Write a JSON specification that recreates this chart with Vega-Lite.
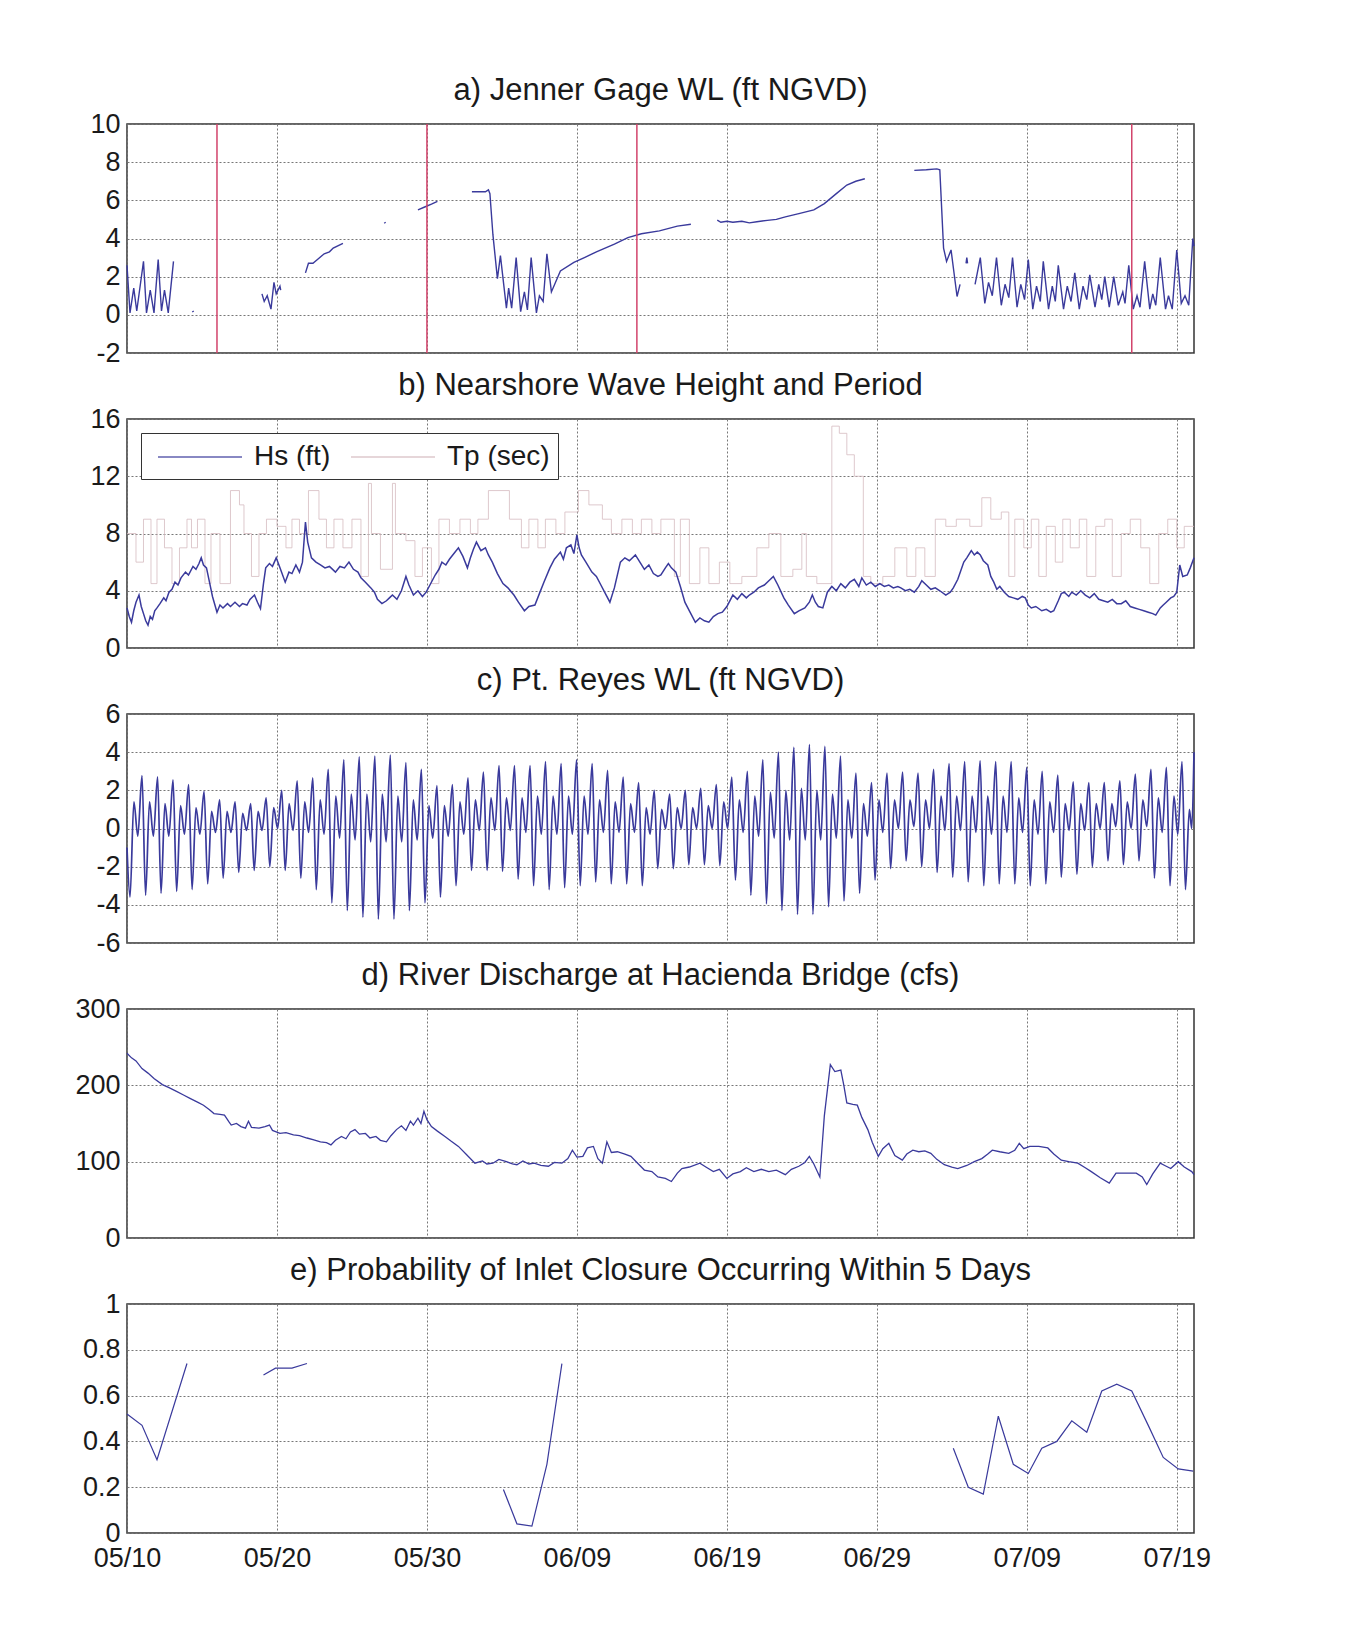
{
"$schema":"https://vega.github.io/schema/vega-lite/v6.json",
"autosize":{"type":"pad"},
"padding":{"left":74,"top":74,"right":20,"bottom":20},
"background":"white",
"spacing":66,
"bounds":"flush",
"resolve":{"scale":{"color":"independent"},"legend":{"color":"independent"}},
"config":{
"view":{"stroke":"#333","strokeWidth":1.5},
"axis":{"grid":true,"gridColor":"#777","gridDash":[2,2],"gridWidth":1,"ticks":false,"domain":false,"labelFont":"Liberation Sans","labelFontSize":27,"labelColor":"#1a1a1a","title":null,"labelOverlap":false,"labelBound":false,"labelFlush":false},
"title":{"font":"Liberation Sans","fontSize":31,"fontWeight":"normal","color":"#1a1a1a","anchor":"middle","offset":3},
"line":{"color":"#3a3a9c","strokeWidth":1.3}
},
"vconcat":[
{"title":"a) Jenner Gage WL (ft NGVD)","width":1067,"height":229,
"encoding":{"x":{"field":"d","type":"quantitative","scale":{"domain":[0,71.15],"nice":false,"zero":false},"axis":{"labels":false,"values":[0,10,20,30,40,50,60,70]}}},
"layer":[
{"data":{"name":"a"},"mark":{"type":"line","strokeWidth":1.4},"encoding":{"y":{"field":"v","type":"quantitative","scale":{"domain":[-2,10],"nice":false},"axis":{"values":[-2,0,2,4,6,8,10],"labelExpr":"''+datum.value","labelPadding":7}},"detail":{"field":"g"}}},
{"data":{"name":"red"},"mark":{"type":"rule","color":"#d2436b","strokeWidth":1.5},"encoding":{}}
]},
{"title":"b) Nearshore Wave Height and Period","width":1067,"height":229,
"encoding":{"x":{"field":"d","type":"quantitative","scale":{"domain":[0,71.15],"nice":false,"zero":false},"axis":{"labels":false,"values":[0,10,20,30,40,50,60,70]}},
"y":{"field":"v","type":"quantitative","scale":{"domain":[0,16],"nice":false},"axis":{"values":[0,4,8,12,16],"labelExpr":"''+datum.value","labelPadding":7}}},
"layer":[
{"data":{"name":"tp"},"mark":{"type":"line","interpolate":"step-after","strokeWidth":1,"opacity":0.8},"encoding":{"color":{"datum":"Tp (sec)","type":"nominal","scale":{"domain":["Hs (ft)","Tp (sec)"],"range":["#3a3a9c","#d6bcc0"]},
"legend":{"orient":"none","legendX":14,"legendY":14,"direction":"horizontal","title":null,"symbolType":"M-2.8,0H2.8","symbolSize":900,"symbolStrokeWidth":1.5,"symbolOffset":35,"labelFontSize":28,"labelFont":"Liberation Sans","labelColor":"#1a1a1a","labelOffset":38,"columnPadding":11,"padding":8,"strokeColor":"#333","fillColor":"white","labelLimit":300}}}},
{"data":{"name":"b"},"mark":{"type":"line","strokeWidth":1.5},"encoding":{"color":{"datum":"Hs (ft)","type":"nominal"}}}
]},
{"title":"c) Pt. Reyes WL (ft NGVD)","width":1067,"height":229,
"data":{"name":"c"},"mark":{"type":"line","strokeWidth":1.7,"interpolate":"monotone"},
"encoding":{"x":{"field":"d","type":"quantitative","scale":{"domain":[0,71.15],"nice":false,"zero":false},"axis":{"labels":false,"values":[0,10,20,30,40,50,60,70]}},
"y":{"field":"v","type":"quantitative","scale":{"domain":[-6,6],"nice":false},"axis":{"values":[-6,-4,-2,0,2,4,6],"labelExpr":"''+datum.value","labelPadding":7}}}},
{"title":"d) River Discharge at Hacienda Bridge (cfs)","width":1067,"height":229,
"data":{"name":"d"},"mark":{"type":"line","strokeWidth":1.3},
"encoding":{"x":{"field":"d","type":"quantitative","scale":{"domain":[0,71.15],"nice":false,"zero":false},"axis":{"labels":false,"values":[0,10,20,30,40,50,60,70]}},
"y":{"field":"v","type":"quantitative","scale":{"domain":[0,300],"nice":false},"axis":{"values":[0,100,200,300],"labelExpr":"''+datum.value","labelPadding":7}}}},
{"title":"e) Probability of Inlet Closure Occurring Within 5 Days","width":1067,"height":229,
"data":{"name":"e"},"mark":{"type":"line","strokeWidth":1.2},
"encoding":{"x":{"field":"d","type":"quantitative","scale":{"domain":[0,71.15],"nice":false,"zero":false},"axis":{"labels":true,"values":[0,10,20,30,40,50,60,70],"labelExpr":"timeFormat(datetime(2013,4,10+datum.value),'%m/%d')","labelPadding":12}},
"y":{"field":"v","type":"quantitative","scale":{"domain":[0,1],"nice":false},"axis":{"values":[0,0.2,0.4,0.6,0.8,1],"labelExpr":"''+datum.value","labelPadding":7}},
"detail":{"field":"g"}}}
],
"datasets":{
"red":[{"d":6},{"d":20},{"d":34},{"d":67}],
"a":[
{"d":0,"v":2.6,"g":1},{"d":0.2,"v":0.1,"g":1},{"d":0.45,"v":1.4,"g":1},{"d":0.65,"v":0.2,"g":1},{"d":1.1,"v":2.8,"g":1},{"d":1.3,"v":0.1,"g":1},{"d":1.55,"v":1.3,"g":1},{"d":1.8,"v":0.1,"g":1},{"d":2.08,"v":2.9,"g":1},{"d":2.3,"v":0.2,"g":1},{"d":2.5,"v":1.3,"g":1},{"d":2.75,"v":0.1,"g":1},{"d":3.1,"v":2.8,"g":1},
{"d":4.35,"v":0.15,"g":2},{"d":4.45,"v":0.2,"g":2},
{"d":9.0,"v":1.1,"g":3},{"d":9.15,"v":0.7,"g":3},{"d":9.35,"v":1.0,"g":3},{"d":9.6,"v":0.3,"g":3},{"d":9.8,"v":1.7,"g":3},{"d":9.95,"v":1.1,"g":3},{"d":10.2,"v":1.5,"g":3},{"d":10.25,"v":1.3,"g":3},
{"d":11.9,"v":2.2,"g":4},{"d":12.1,"v":2.7,"g":4},{"d":12.4,"v":2.7,"g":4},{"d":12.7,"v":2.9,"g":4},{"d":13.15,"v":3.2,"g":4},{"d":13.5,"v":3.3,"g":4},{"d":13.75,"v":3.5,"g":4},{"d":14.4,"v":3.75,"g":4},
{"d":17.15,"v":4.8,"g":5},{"d":17.25,"v":4.85,"g":5},
{"d":19.4,"v":5.5,"g":6},{"d":19.85,"v":5.65,"g":6},{"d":20.3,"v":5.8,"g":6},{"d":20.7,"v":5.95,"g":6},
{"d":23.0,"v":6.45,"g":7},{"d":23.9,"v":6.45,"g":7},{"d":24.1,"v":6.55,"g":7},{"d":24.2,"v":6.35,"g":7},{"d":24.4,"v":4.2,"g":7},{"d":24.7,"v":1.9,"g":7},{"d":24.9,"v":3.1,"g":7},{"d":25.3,"v":0.35,"g":7},{"d":25.45,"v":1.4,"g":7},{"d":25.65,"v":0.35,"g":7},{"d":25.95,"v":3.0,"g":7},{"d":26.25,"v":0.17,"g":7},{"d":26.5,"v":1.2,"g":7},{"d":26.7,"v":0.26,"g":7},{"d":26.95,"v":3.0,"g":7},{"d":27.3,"v":0.1,"g":7},{"d":27.5,"v":1.0,"g":7},{"d":27.75,"v":0.7,"g":7},{"d":28.0,"v":3.2,"g":7},{"d":28.3,"v":1.2,"g":7},{"d":28.9,"v":2.3,"g":7},{"d":29.8,"v":2.75,"g":7},{"d":30.5,"v":3.0,"g":7},{"d":31.3,"v":3.3,"g":7},{"d":32.5,"v":3.7,"g":7},{"d":33.4,"v":4.05,"g":7},{"d":34.3,"v":4.25,"g":7},{"d":35.5,"v":4.4,"g":7},{"d":36.7,"v":4.65,"g":7},{"d":37.6,"v":4.75,"g":7},
{"d":39.36,"v":4.96,"g":8},{"d":39.6,"v":4.85,"g":8},{"d":40.0,"v":4.9,"g":8},{"d":40.4,"v":4.85,"g":8},{"d":41.0,"v":4.9,"g":8},{"d":41.5,"v":4.82,"g":8},{"d":42.0,"v":4.88,"g":8},{"d":42.7,"v":4.95,"g":8},{"d":43.3,"v":5.0,"g":8},{"d":43.9,"v":5.13,"g":8},{"d":44.8,"v":5.3,"g":8},{"d":45.8,"v":5.5,"g":8},{"d":46.5,"v":5.83,"g":8},{"d":47.3,"v":6.35,"g":8},{"d":48.0,"v":6.8,"g":8},{"d":48.6,"v":7.0,"g":8},{"d":49.2,"v":7.13,"g":8},
{"d":52.5,"v":7.57,"g":9},{"d":53.3,"v":7.6,"g":9},{"d":54.0,"v":7.65,"g":9},{"d":54.2,"v":7.6,"g":9},{"d":54.45,"v":3.5,"g":9},{"d":54.65,"v":2.8,"g":9},{"d":54.95,"v":3.4,"g":9},{"d":55.35,"v":0.96,"g":9},{"d":55.55,"v":1.6,"g":9},
{"d":55.95,"v":2.7,"g":10},{"d":56.0,"v":3.0,"g":10},{"d":56.05,"v":2.7,"g":10},
{"d":56.55,"v":1.6,"g":11},{"d":56.9,"v":3.0,"g":11},{"d":57.2,"v":0.6,"g":11},{"d":57.45,"v":1.7,"g":11},{"d":57.7,"v":1.0,"g":11},{"d":57.98,"v":3.0,"g":11},{"d":58.3,"v":0.5,"g":11},{"d":58.55,"v":1.6,"g":11},{"d":58.8,"v":0.9,"g":11},{"d":59.05,"v":3.0,"g":11},{"d":59.35,"v":0.4,"g":11},{"d":59.6,"v":1.6,"g":11},{"d":59.85,"v":0.8,"g":11},{"d":60.1,"v":2.9,"g":11},{"d":60.4,"v":0.3,"g":11},{"d":60.65,"v":1.5,"g":11},{"d":60.9,"v":0.7,"g":11},{"d":61.1,"v":2.8,"g":11},{"d":61.45,"v":0.3,"g":11},{"d":61.7,"v":1.5,"g":11},{"d":61.9,"v":0.7,"g":11},{"d":62.1,"v":2.6,"g":11},{"d":62.45,"v":0.3,"g":11},{"d":62.7,"v":1.5,"g":11},{"d":62.95,"v":0.7,"g":11},{"d":63.2,"v":2.2,"g":11},{"d":63.5,"v":0.3,"g":11},{"d":63.75,"v":1.5,"g":11},{"d":64.0,"v":0.8,"g":11},{"d":64.2,"v":2.1,"g":11},{"d":64.55,"v":0.4,"g":11},{"d":64.8,"v":1.6,"g":11},{"d":65.0,"v":0.8,"g":11},{"d":65.2,"v":2.0,"g":11},{"d":65.5,"v":0.4,"g":11},{"d":65.8,"v":2.0,"g":11},{"d":66.1,"v":0.5,"g":11},{"d":66.4,"v":1.2,"g":11},{"d":66.55,"v":0.6,"g":11},{"d":66.8,"v":2.6,"g":11},{"d":67.1,"v":0.3,"g":11},{"d":67.35,"v":1.0,"g":11},{"d":67.55,"v":0.4,"g":11},{"d":67.86,"v":2.8,"g":11},{"d":68.2,"v":0.3,"g":11},{"d":68.4,"v":1.1,"g":11},{"d":68.6,"v":0.5,"g":11},{"d":68.9,"v":3.0,"g":11},{"d":69.25,"v":0.3,"g":11},{"d":69.45,"v":1.0,"g":11},{"d":69.7,"v":0.3,"g":11},{"d":70.0,"v":3.4,"g":11},{"d":70.3,"v":0.6,"g":11},{"d":70.55,"v":1.0,"g":11},{"d":70.8,"v":0.5,"g":11},{"d":71.07,"v":4.0,"g":11},{"d":71.15,"v":3.6,"g":11}
],
"tp":[
{"d":0,"v":8},{"d":0.6,"v":6},{"d":1.1,"v":9},{"d":1.6,"v":4.5},{"d":2.0,"v":9},{"d":2.5,"v":7},{"d":3.0,"v":4.5},{"d":3.5,"v":7},{"d":4.0,"v":9},{"d":4.3,"v":7},{"d":4.7,"v":9},{"d":5.2,"v":4.5},{"d":5.6,"v":8},{"d":6.2,"v":4.5},{"d":6.9,"v":11},{"d":7.5,"v":10},{"d":7.8,"v":8},{"d":8.3,"v":5},{"d":8.8,"v":8},{"d":9.3,"v":9},{"d":10.0,"v":8.5},{"d":10.6,"v":7},{"d":11.0,"v":9},{"d":11.5,"v":8},{"d":12.1,"v":11},{"d":12.8,"v":9},{"d":13.3,"v":7},{"d":13.8,"v":9},{"d":14.4,"v":7},{"d":15.0,"v":9},{"d":15.6,"v":5},{"d":16.1,"v":11.5},{"d":16.3,"v":8},{"d":16.9,"v":5.5},{"d":17.7,"v":11.5},{"d":17.9,"v":8},{"d":18.6,"v":7.5},{"d":19.2,"v":5},{"d":19.7,"v":7},{"d":20.3,"v":4.5},{"d":20.8,"v":9},{"d":21.5,"v":8},{"d":22.2,"v":9},{"d":22.9,"v":8},{"d":23.4,"v":9},{"d":24.1,"v":11},{"d":25.5,"v":9},{"d":26.3,"v":7},{"d":26.8,"v":9},{"d":27.4,"v":7},{"d":27.9,"v":9},{"d":28.6,"v":8},{"d":29.2,"v":9.5},{"d":30.1,"v":11},{"d":30.8,"v":10},{"d":31.7,"v":9},{"d":32.3,"v":8},{"d":33.0,"v":9},{"d":33.7,"v":8},{"d":34.3,"v":9},{"d":35.0,"v":8},{"d":35.6,"v":9},{"d":36.5,"v":5},{"d":36.9,"v":9},{"d":37.5,"v":4.5},{"d":38.2,"v":7},{"d":38.8,"v":4.5},{"d":39.5,"v":6},{"d":40.2,"v":4.5},{"d":41.0,"v":5},{"d":42.0,"v":7},{"d":42.8,"v":8},{"d":43.6,"v":5},{"d":44.4,"v":5.5},{"d":45.0,"v":8},{"d":45.3,"v":5},{"d":46.0,"v":4.5},{"d":47.0,"v":15.5},{"d":47.5,"v":15},{"d":48.0,"v":13.5},{"d":48.5,"v":12},{"d":49.1,"v":5},{"d":49.6,"v":4.5},{"d":50.4,"v":5},{"d":51.2,"v":7},{"d":52.0,"v":5},{"d":52.6,"v":7},{"d":53.2,"v":5},{"d":53.9,"v":9},{"d":54.6,"v":8.5},{"d":55.3,"v":9},{"d":56.2,"v":8.5},{"d":57.0,"v":10.5},{"d":57.6,"v":9},{"d":58.3,"v":9.5},{"d":58.8,"v":5},{"d":59.2,"v":9},{"d":59.8,"v":7},{"d":60.3,"v":9},{"d":60.8,"v":5},{"d":61.3,"v":8.5},{"d":61.9,"v":6},{"d":62.4,"v":9},{"d":62.9,"v":7},{"d":63.5,"v":9},{"d":64.0,"v":5},{"d":64.6,"v":8.5},{"d":65.2,"v":9},{"d":65.7,"v":5},{"d":66.3,"v":8},{"d":66.9,"v":9},{"d":67.6,"v":7},{"d":68.2,"v":4.5},{"d":68.8,"v":8},{"d":69.4,"v":9},{"d":70.0,"v":7},{"d":70.5,"v":8.5},{"d":71.15,"v":8.5}
],
"b":[
{"d":0,"v":2.8},{"d":0.15,"v":2.2},{"d":0.3,"v":1.8},{"d":0.45,"v":2.6},{"d":0.6,"v":3.2},{"d":0.8,"v":3.7},{"d":0.95,"v":2.9},{"d":1.1,"v":2.4},{"d":1.25,"v":1.9},{"d":1.4,"v":1.6},{"d":1.55,"v":2.2},{"d":1.7,"v":2.0},{"d":1.85,"v":2.6},{"d":2.0,"v":2.8},{"d":2.2,"v":3.1},{"d":2.45,"v":3.5},{"d":2.6,"v":3.3},{"d":2.8,"v":3.9},{"d":3.0,"v":4.1},{"d":3.2,"v":4.6},{"d":3.4,"v":4.4},{"d":3.6,"v":4.9},{"d":3.9,"v":5.3},{"d":4.1,"v":5.1},{"d":4.4,"v":5.7},{"d":4.6,"v":5.5},{"d":4.8,"v":5.9},{"d":4.95,"v":6.3},{"d":5.1,"v":5.8},{"d":5.3,"v":5.6},{"d":5.5,"v":4.6},{"d":5.7,"v":3.6},{"d":6.0,"v":2.5},{"d":6.2,"v":3.0},{"d":6.4,"v":2.8},{"d":6.7,"v":3.1},{"d":6.9,"v":2.9},{"d":7.2,"v":3.2},{"d":7.5,"v":2.9},{"d":7.7,"v":3.1},{"d":8.0,"v":3.0},{"d":8.2,"v":3.4},{"d":8.5,"v":3.7},{"d":8.7,"v":3.2},{"d":8.9,"v":2.75},{"d":9.1,"v":4.5},{"d":9.25,"v":5.6},{"d":9.5,"v":5.9},{"d":9.7,"v":5.7},{"d":9.95,"v":6.3},{"d":10.2,"v":5.6},{"d":10.55,"v":4.6},{"d":10.8,"v":5.3},{"d":11.0,"v":5.2},{"d":11.26,"v":5.8},{"d":11.5,"v":5.3},{"d":11.7,"v":6.0},{"d":11.9,"v":8.8},{"d":12.05,"v":7.4},{"d":12.3,"v":6.3},{"d":12.6,"v":6.0},{"d":12.9,"v":5.8},{"d":13.2,"v":5.6},{"d":13.5,"v":5.7},{"d":13.9,"v":5.3},{"d":14.2,"v":5.7},{"d":14.5,"v":5.6},{"d":14.8,"v":6.0},{"d":15.1,"v":5.5},{"d":15.4,"v":5.3},{"d":15.6,"v":4.9},{"d":15.9,"v":4.6},{"d":16.26,"v":4.2},{"d":16.5,"v":3.9},{"d":16.7,"v":3.4},{"d":17.0,"v":3.1},{"d":17.3,"v":3.3},{"d":17.5,"v":3.5},{"d":17.7,"v":3.7},{"d":18.0,"v":3.4},{"d":18.3,"v":4.0},{"d":18.6,"v":5.0},{"d":18.8,"v":4.4},{"d":19.1,"v":3.7},{"d":19.4,"v":4.0},{"d":19.7,"v":3.6},{"d":19.95,"v":3.9},{"d":20.2,"v":4.4},{"d":20.55,"v":5.1},{"d":20.8,"v":5.5},{"d":21.0,"v":6.0},{"d":21.26,"v":5.8},{"d":21.5,"v":6.2},{"d":21.8,"v":6.6},{"d":22.1,"v":7.0},{"d":22.4,"v":6.4},{"d":22.7,"v":5.6},{"d":22.9,"v":6.3},{"d":23.1,"v":6.9},{"d":23.3,"v":7.4},{"d":23.6,"v":6.8},{"d":23.9,"v":7.0},{"d":24.1,"v":6.5},{"d":24.36,"v":6.0},{"d":24.7,"v":5.2},{"d":25.07,"v":4.5},{"d":25.4,"v":4.2},{"d":25.8,"v":3.7},{"d":26.1,"v":3.2},{"d":26.5,"v":2.6},{"d":26.8,"v":2.9},{"d":27.2,"v":3.0},{"d":27.5,"v":3.8},{"d":27.8,"v":4.6},{"d":28.2,"v":5.6},{"d":28.5,"v":6.2},{"d":28.9,"v":6.7},{"d":29.1,"v":6.2},{"d":29.3,"v":7.0},{"d":29.6,"v":7.2},{"d":29.8,"v":6.6},{"d":30.0,"v":7.9},{"d":30.15,"v":7.0},{"d":30.3,"v":6.5},{"d":30.6,"v":6.0},{"d":31.0,"v":5.3},{"d":31.3,"v":5.0},{"d":31.6,"v":4.4},{"d":31.9,"v":3.8},{"d":32.2,"v":3.2},{"d":32.5,"v":4.2},{"d":32.9,"v":6.0},{"d":33.2,"v":6.3},{"d":33.5,"v":6.1},{"d":33.9,"v":6.5},{"d":34.2,"v":6.0},{"d":34.5,"v":5.5},{"d":34.8,"v":5.8},{"d":35.1,"v":5.2},{"d":35.4,"v":5.0},{"d":35.6,"v":5.1},{"d":35.9,"v":5.6},{"d":36.1,"v":5.9},{"d":36.3,"v":5.6},{"d":36.6,"v":5.3},{"d":36.9,"v":4.3},{"d":37.2,"v":3.2},{"d":37.5,"v":2.6},{"d":37.9,"v":1.8},{"d":38.2,"v":2.1},{"d":38.5,"v":1.9},{"d":38.8,"v":1.8},{"d":39.1,"v":2.2},{"d":39.4,"v":2.4},{"d":39.7,"v":2.5},{"d":40.0,"v":2.9},{"d":40.4,"v":3.7},{"d":40.7,"v":3.4},{"d":41.0,"v":3.8},{"d":41.3,"v":3.5},{"d":41.5,"v":3.7},{"d":41.8,"v":3.9},{"d":42.1,"v":4.2},{"d":42.5,"v":4.4},{"d":42.8,"v":4.7},{"d":43.1,"v":5.0},{"d":43.4,"v":4.4},{"d":43.8,"v":3.5},{"d":44.1,"v":3.0},{"d":44.5,"v":2.4},{"d":44.8,"v":2.6},{"d":45.2,"v":2.8},{"d":45.5,"v":3.2},{"d":45.7,"v":3.7},{"d":45.9,"v":3.2},{"d":46.1,"v":2.9},{"d":46.4,"v":2.8},{"d":46.7,"v":3.9},{"d":47.0,"v":4.3},{"d":47.3,"v":4.0},{"d":47.6,"v":4.5},{"d":47.9,"v":4.2},{"d":48.2,"v":4.6},{"d":48.5,"v":4.8},{"d":48.8,"v":4.3},{"d":49.0,"v":4.9},{"d":49.3,"v":4.4},{"d":49.6,"v":4.6},{"d":49.9,"v":4.3},{"d":50.2,"v":4.5},{"d":50.5,"v":4.3},{"d":50.8,"v":4.4},{"d":51.1,"v":4.2},{"d":51.4,"v":4.3},{"d":51.6,"v":4.2},{"d":51.9,"v":4.0},{"d":52.2,"v":4.1},{"d":52.5,"v":3.9},{"d":52.8,"v":4.3},{"d":53.0,"v":4.7},{"d":53.3,"v":4.4},{"d":53.6,"v":4.1},{"d":53.9,"v":4.2},{"d":54.2,"v":4.0},{"d":54.6,"v":3.7},{"d":54.9,"v":3.9},{"d":55.1,"v":4.2},{"d":55.4,"v":4.8},{"d":55.8,"v":6.0},{"d":56.0,"v":6.3},{"d":56.3,"v":6.8},{"d":56.5,"v":6.5},{"d":56.7,"v":6.7},{"d":56.9,"v":6.5},{"d":57.1,"v":6.1},{"d":57.4,"v":5.8},{"d":57.6,"v":5.0},{"d":57.8,"v":4.6},{"d":58.0,"v":4.1},{"d":58.2,"v":4.3},{"d":58.5,"v":3.9},{"d":58.8,"v":3.6},{"d":59.1,"v":3.5},{"d":59.4,"v":3.4},{"d":59.7,"v":3.6},{"d":59.9,"v":3.5},{"d":60.1,"v":3.0},{"d":60.3,"v":2.8},{"d":60.6,"v":2.9},{"d":61.0,"v":2.6},{"d":61.3,"v":2.7},{"d":61.6,"v":2.5},{"d":61.8,"v":2.6},{"d":62.1,"v":3.3},{"d":62.3,"v":3.8},{"d":62.5,"v":3.9},{"d":62.8,"v":3.6},{"d":63.0,"v":3.9},{"d":63.3,"v":3.7},{"d":63.6,"v":4.0},{"d":63.9,"v":3.7},{"d":64.2,"v":3.5},{"d":64.5,"v":3.8},{"d":64.8,"v":3.4},{"d":65.1,"v":3.3},{"d":65.4,"v":3.2},{"d":65.7,"v":3.4},{"d":66.0,"v":3.1},{"d":66.3,"v":3.1},{"d":66.6,"v":3.3},{"d":66.9,"v":2.9},{"d":67.2,"v":2.8},{"d":67.5,"v":2.7},{"d":67.8,"v":2.6},{"d":68.1,"v":2.5},{"d":68.4,"v":2.4},{"d":68.6,"v":2.3},{"d":68.9,"v":2.8},{"d":69.1,"v":3.0},{"d":69.3,"v":3.2},{"d":69.6,"v":3.5},{"d":69.8,"v":3.6},{"d":70.0,"v":3.9},{"d":70.2,"v":5.8},{"d":70.4,"v":5.0},{"d":70.7,"v":5.1},{"d":70.9,"v":5.6},{"d":71.15,"v":6.3}
],
"c":[
{"d":0,"v":-1},
{"d":0.2,"v":-3.6},{"d":0.46,"v":1.4},{"d":0.72,"v":-0.4},{"d":1.0,"v":2.77},
{"d":1.24,"v":-3.5},{"d":1.5,"v":1.4},{"d":1.76,"v":-0.4},{"d":2.04,"v":2.7},
{"d":2.27,"v":-3.4},{"d":2.53,"v":1.3},{"d":2.79,"v":-0.4},{"d":3.07,"v":2.55},
{"d":3.31,"v":-3.3},{"d":3.57,"v":1.2},{"d":3.83,"v":-0.3},{"d":4.11,"v":2.3},
{"d":4.34,"v":-3.2},{"d":4.6,"v":1.1},{"d":4.86,"v":-0.3},{"d":5.14,"v":1.95},
{"d":5.38,"v":-2.9},{"d":5.64,"v":0.9},{"d":5.9,"v":-0.2},{"d":6.18,"v":1.5},
{"d":6.41,"v":-2.6},{"d":6.67,"v":0.9},{"d":6.93,"v":-0.2},{"d":7.21,"v":1.4},
{"d":7.45,"v":-2.3},{"d":7.71,"v":0.8},{"d":7.97,"v":-0.1},{"d":8.25,"v":1.3},
{"d":8.48,"v":-2.2},{"d":8.74,"v":0.9},{"d":9.0,"v":-0.1},{"d":9.28,"v":1.6},
{"d":9.52,"v":-2.0},{"d":9.78,"v":1.1},{"d":10.04,"v":0},{"d":10.32,"v":2.0},
{"d":10.55,"v":-2.2},{"d":10.81,"v":1.3},{"d":11.07,"v":-0.1},{"d":11.35,"v":2.5},
{"d":11.59,"v":-2.6},{"d":11.85,"v":1.4},{"d":12.11,"v":-0.2},{"d":12.39,"v":2.65},
{"d":12.62,"v":-3.2},{"d":12.88,"v":1.5},{"d":13.14,"v":-0.3},{"d":13.42,"v":3.1},
{"d":13.66,"v":-3.9},{"d":13.92,"v":1.7},{"d":14.18,"v":-0.5},{"d":14.46,"v":3.6},
{"d":14.69,"v":-4.3},{"d":14.95,"v":1.8},{"d":15.21,"v":-0.6},{"d":15.49,"v":3.76},
{"d":15.73,"v":-4.65},{"d":15.99,"v":1.8},{"d":16.25,"v":-0.7},{"d":16.53,"v":3.8},
{"d":16.76,"v":-4.75},{"d":17.02,"v":1.8},{"d":17.28,"v":-0.7},{"d":17.56,"v":3.85},
{"d":17.8,"v":-4.75},{"d":18.06,"v":1.7},{"d":18.32,"v":-0.7},{"d":18.6,"v":3.45},
{"d":18.83,"v":-4.3},{"d":19.09,"v":1.5},{"d":19.35,"v":-0.6},{"d":19.63,"v":3.1},
{"d":19.87,"v":-3.9},{"d":20.13,"v":1.2},{"d":20.39,"v":-0.5},{"d":20.67,"v":2.25},
{"d":20.9,"v":-3.6},{"d":21.16,"v":1.2},{"d":21.42,"v":-0.4},{"d":21.7,"v":2.3},
{"d":21.94,"v":-3.0},{"d":22.2,"v":1.4},{"d":22.46,"v":-0.3},{"d":22.74,"v":2.65},
{"d":22.97,"v":-2.2},{"d":23.23,"v":1.5},{"d":23.49,"v":-0.1},{"d":23.77,"v":2.95},
{"d":24.01,"v":-2.2},{"d":24.27,"v":1.6},{"d":24.53,"v":-0.1},{"d":24.81,"v":3.3},
{"d":25.04,"v":-2.25},{"d":25.3,"v":1.6},{"d":25.56,"v":-0.1},{"d":25.84,"v":3.3},
{"d":26.08,"v":-2.65},{"d":26.34,"v":1.6},{"d":26.6,"v":-0.2},{"d":26.88,"v":3.3},
{"d":27.11,"v":-3.0},{"d":27.37,"v":1.7},{"d":27.63,"v":-0.3},{"d":27.91,"v":3.5},
{"d":28.15,"v":-3.2},{"d":28.41,"v":1.7},{"d":28.67,"v":-0.3},{"d":28.95,"v":3.4},
{"d":29.18,"v":-3.1},{"d":29.44,"v":1.7},{"d":29.7,"v":-0.3},{"d":29.98,"v":3.6},
{"d":30.22,"v":-3.0},{"d":30.48,"v":1.7},{"d":30.74,"v":-0.3},{"d":31.02,"v":3.4},
{"d":31.25,"v":-2.8},{"d":31.51,"v":1.5},{"d":31.77,"v":-0.2},{"d":32.05,"v":3.05},
{"d":32.29,"v":-2.9},{"d":32.55,"v":1.4},{"d":32.81,"v":-0.2},{"d":33.09,"v":2.7},
{"d":33.32,"v":-2.9},{"d":33.58,"v":1.3},{"d":33.84,"v":-0.2},{"d":34.12,"v":2.4},
{"d":34.36,"v":-3.0},{"d":34.62,"v":1.1},{"d":34.88,"v":-0.3},{"d":35.16,"v":2.0},
{"d":35.39,"v":-2.1},{"d":35.65,"v":1.0},{"d":35.91,"v":0},{"d":36.19,"v":1.8},
{"d":36.43,"v":-2.1},{"d":36.69,"v":1.1},{"d":36.95,"v":0},{"d":37.23,"v":2.0},
{"d":37.46,"v":-1.9},{"d":37.72,"v":1.1},{"d":37.98,"v":0},{"d":38.26,"v":2.1},
{"d":38.5,"v":-1.9},{"d":38.76,"v":1.2},{"d":39.02,"v":0},{"d":39.3,"v":2.3},
{"d":39.53,"v":-1.95},{"d":39.79,"v":1.4},{"d":40.05,"v":0},{"d":40.33,"v":2.7},
{"d":40.57,"v":-2.7},{"d":40.83,"v":1.5},{"d":41.09,"v":-0.2},{"d":41.37,"v":3.0},
{"d":41.6,"v":-3.5},{"d":41.86,"v":1.7},{"d":42.12,"v":-0.4},{"d":42.4,"v":3.6},
{"d":42.64,"v":-3.95},{"d":42.9,"v":1.9},{"d":43.16,"v":-0.5},{"d":43.44,"v":4.0},
{"d":43.67,"v":-4.3},{"d":43.93,"v":2.0},{"d":44.19,"v":-0.6},{"d":44.47,"v":4.25},
{"d":44.71,"v":-4.5},{"d":44.97,"v":2.1},{"d":45.23,"v":-0.6},{"d":45.51,"v":4.4},
{"d":45.74,"v":-4.5},{"d":46.0,"v":2.0},{"d":46.26,"v":-0.6},{"d":46.54,"v":4.3},
{"d":46.78,"v":-4.1},{"d":47.04,"v":1.8},{"d":47.3,"v":-0.5},{"d":47.58,"v":3.8},
{"d":47.81,"v":-3.8},{"d":48.07,"v":1.5},{"d":48.33,"v":-0.5},{"d":48.61,"v":2.9},
{"d":48.85,"v":-3.4},{"d":49.11,"v":1.3},{"d":49.37,"v":-0.4},{"d":49.65,"v":2.4},
{"d":49.88,"v":-2.7},{"d":50.14,"v":1.5},{"d":50.4,"v":-0.2},{"d":50.68,"v":2.9},
{"d":50.92,"v":-2.1},{"d":51.18,"v":1.5},{"d":51.44,"v":0},{"d":51.72,"v":2.95},
{"d":51.95,"v":-1.7},{"d":52.21,"v":1.5},{"d":52.47,"v":0.1},{"d":52.75,"v":2.9},
{"d":52.99,"v":-2.0},{"d":53.25,"v":1.5},{"d":53.51,"v":0},{"d":53.79,"v":3.1},
{"d":54.02,"v":-2.3},{"d":54.28,"v":1.7},{"d":54.54,"v":-0.1},{"d":54.82,"v":3.4},
{"d":55.06,"v":-2.55},{"d":55.32,"v":1.7},{"d":55.58,"v":-0.1},{"d":55.86,"v":3.5},
{"d":56.09,"v":-2.8},{"d":56.35,"v":1.7},{"d":56.61,"v":-0.2},{"d":56.89,"v":3.55},
{"d":57.13,"v":-3.0},{"d":57.39,"v":1.7},{"d":57.65,"v":-0.3},{"d":57.93,"v":3.5},
{"d":58.16,"v":-2.9},{"d":58.42,"v":1.7},{"d":58.68,"v":-0.2},{"d":58.96,"v":3.5},
{"d":59.2,"v":-2.9},{"d":59.46,"v":1.6},{"d":59.72,"v":-0.2},{"d":60.0,"v":3.2},
{"d":60.23,"v":-3.0},{"d":60.49,"v":1.5},{"d":60.75,"v":-0.3},{"d":61.03,"v":3.0},
{"d":61.27,"v":-2.9},{"d":61.53,"v":1.4},{"d":61.79,"v":-0.2},{"d":62.07,"v":2.8},
{"d":62.3,"v":-2.55},{"d":62.56,"v":1.3},{"d":62.82,"v":-0.1},{"d":63.1,"v":2.45},
{"d":63.34,"v":-2.4},{"d":63.6,"v":1.3},{"d":63.86,"v":-0.1},{"d":64.14,"v":2.4},
{"d":64.37,"v":-2.0},{"d":64.63,"v":1.3},{"d":64.89,"v":0},{"d":65.17,"v":2.4},
{"d":65.41,"v":-1.7},{"d":65.67,"v":1.3},{"d":65.93,"v":0.1},{"d":66.21,"v":2.5},
{"d":66.44,"v":-1.9},{"d":66.7,"v":1.4},{"d":66.96,"v":0},{"d":67.24,"v":2.85},
{"d":67.48,"v":-1.7},{"d":67.74,"v":1.5},{"d":68.0,"v":0.1},{"d":68.28,"v":3.1},
{"d":68.51,"v":-2.6},{"d":68.77,"v":1.6},{"d":69.03,"v":-0.2},{"d":69.31,"v":3.2},
{"d":69.55,"v":-3.0},{"d":69.81,"v":1.7},{"d":70.07,"v":-0.3},{"d":70.35,"v":3.5},
{"d":70.58,"v":-3.2},{"d":70.84,"v":1.0},{"d":71.0,"v":0.0},{"d":71.15,"v":4.0}
],
"d":[
{"d":0,"v":242},{"d":0.3,"v":236},{"d":0.6,"v":232},{"d":1.0,"v":222},{"d":1.4,"v":216},{"d":1.8,"v":209},{"d":2.36,"v":201},{"d":2.8,"v":197},{"d":3.3,"v":192},{"d":3.8,"v":187},{"d":4.2,"v":183},{"d":4.7,"v":178},{"d":5.1,"v":174},{"d":5.5,"v":168},{"d":5.8,"v":163},{"d":6.2,"v":162},{"d":6.5,"v":161},{"d":6.8,"v":152},{"d":6.95,"v":148},{"d":7.3,"v":150},{"d":7.6,"v":146},{"d":7.9,"v":144},{"d":8.1,"v":153},{"d":8.3,"v":145},{"d":8.8,"v":144},{"d":9.2,"v":146},{"d":9.5,"v":148},{"d":9.7,"v":141},{"d":10.2,"v":137},{"d":10.6,"v":138},{"d":11.1,"v":135},{"d":11.5,"v":134},{"d":12.0,"v":131},{"d":12.4,"v":129},{"d":12.9,"v":126},{"d":13.3,"v":125},{"d":13.6,"v":122},{"d":13.9,"v":128},{"d":14.3,"v":133},{"d":14.6,"v":130},{"d":14.9,"v":139},{"d":15.2,"v":142},{"d":15.5,"v":136},{"d":15.9,"v":137},{"d":16.2,"v":131},{"d":16.6,"v":133},{"d":16.9,"v":128},{"d":17.3,"v":126},{"d":17.6,"v":134},{"d":17.97,"v":142},{"d":18.3,"v":147},{"d":18.6,"v":141},{"d":18.9,"v":153},{"d":19.1,"v":148},{"d":19.4,"v":157},{"d":19.6,"v":150},{"d":19.8,"v":166},{"d":20.0,"v":155},{"d":20.3,"v":146},{"d":20.7,"v":140},{"d":21.2,"v":133},{"d":21.6,"v":127},{"d":22.1,"v":120},{"d":22.6,"v":110},{"d":23.2,"v":98},{"d":23.7,"v":101},{"d":24.0,"v":97},{"d":24.4,"v":98},{"d":24.8,"v":103},{"d":25.3,"v":100},{"d":25.7,"v":97},{"d":26.0,"v":96},{"d":26.4,"v":101},{"d":26.8,"v":97},{"d":27.15,"v":98},{"d":27.6,"v":95},{"d":28.1,"v":94},{"d":28.5,"v":99},{"d":29.0,"v":98},{"d":29.4,"v":104},{"d":29.7,"v":115},{"d":30.0,"v":106},{"d":30.4,"v":107},{"d":30.7,"v":118},{"d":31.1,"v":120},{"d":31.4,"v":104},{"d":31.7,"v":98},{"d":32.0,"v":126},{"d":32.3,"v":112},{"d":32.7,"v":113},{"d":33.2,"v":110},{"d":33.6,"v":107},{"d":34.1,"v":97},{"d":34.5,"v":89},{"d":35.0,"v":87},{"d":35.4,"v":80},{"d":35.9,"v":78},{"d":36.3,"v":74},{"d":36.7,"v":85},{"d":37.0,"v":91},{"d":37.5,"v":93},{"d":38.2,"v":98},{"d":38.6,"v":93},{"d":39.1,"v":87},{"d":39.5,"v":90},{"d":40.0,"v":78},{"d":40.4,"v":84},{"d":40.9,"v":87},{"d":41.3,"v":92},{"d":41.8,"v":87},{"d":42.3,"v":90},{"d":42.8,"v":87},{"d":43.3,"v":89},{"d":43.9,"v":83},{"d":44.3,"v":90},{"d":44.8,"v":94},{"d":45.2,"v":99},{"d":45.5,"v":107},{"d":45.8,"v":97},{"d":46.2,"v":80},{"d":46.5,"v":160},{"d":46.9,"v":227},{"d":47.2,"v":218},{"d":47.6,"v":220},{"d":47.8,"v":200},{"d":48.0,"v":177},{"d":48.4,"v":175},{"d":48.7,"v":174},{"d":49.0,"v":158},{"d":49.4,"v":142},{"d":49.7,"v":125},{"d":50.1,"v":107},{"d":50.4,"v":117},{"d":50.8,"v":124},{"d":51.2,"v":108},{"d":51.7,"v":102},{"d":52.0,"v":110},{"d":52.4,"v":115},{"d":52.8,"v":113},{"d":53.2,"v":114},{"d":53.6,"v":111},{"d":54.0,"v":103},{"d":54.5,"v":96},{"d":55.0,"v":93},{"d":55.4,"v":91},{"d":56.0,"v":95},{"d":56.5,"v":100},{"d":57.0,"v":104},{"d":57.4,"v":110},{"d":57.7,"v":115},{"d":58.2,"v":113},{"d":58.8,"v":111},{"d":59.2,"v":115},{"d":59.5,"v":124},{"d":59.8,"v":117},{"d":60.2,"v":120},{"d":60.8,"v":120},{"d":61.4,"v":118},{"d":61.8,"v":110},{"d":62.3,"v":102},{"d":62.8,"v":100},{"d":63.4,"v":98},{"d":63.9,"v":92},{"d":64.3,"v":87},{"d":64.9,"v":79},{"d":65.5,"v":72},{"d":65.95,"v":85},{"d":66.5,"v":85},{"d":67.3,"v":85},{"d":67.7,"v":80},{"d":68.0,"v":70},{"d":68.4,"v":84},{"d":68.9,"v":98},{"d":69.2,"v":95},{"d":69.6,"v":91},{"d":70.1,"v":100},{"d":70.5,"v":93},{"d":71.0,"v":87},{"d":71.15,"v":83}
],
"e":[
{"d":0,"v":0.52,"g":1},{"d":1.0,"v":0.47,"g":1},{"d":2.0,"v":0.32,"g":1},{"d":4.0,"v":0.74,"g":1},
{"d":9.1,"v":0.69,"g":2},{"d":9.9,"v":0.72,"g":2},{"d":11.0,"v":0.72,"g":2},{"d":12.0,"v":0.74,"g":2},
{"d":25.1,"v":0.19,"g":3},{"d":26.0,"v":0.04,"g":3},{"d":27.0,"v":0.03,"g":3},{"d":28.0,"v":0.3,"g":3},{"d":29.0,"v":0.74,"g":3},
{"d":55.1,"v":0.37,"g":4},{"d":56.1,"v":0.2,"g":4},{"d":57.1,"v":0.17,"g":4},{"d":58.1,"v":0.51,"g":4},{"d":59.1,"v":0.3,"g":4},{"d":60.1,"v":0.26,"g":4},{"d":61.0,"v":0.37,"g":4},{"d":62.0,"v":0.4,"g":4},{"d":63.0,"v":0.49,"g":4},{"d":64.0,"v":0.44,"g":4},{"d":65.0,"v":0.62,"g":4},{"d":66.0,"v":0.65,"g":4},{"d":67.0,"v":0.62,"g":4},{"d":68.1,"v":0.47,"g":4},{"d":69.1,"v":0.33,"g":4},{"d":70.1,"v":0.28,"g":4},{"d":71.1,"v":0.27,"g":4}
]
}
}
